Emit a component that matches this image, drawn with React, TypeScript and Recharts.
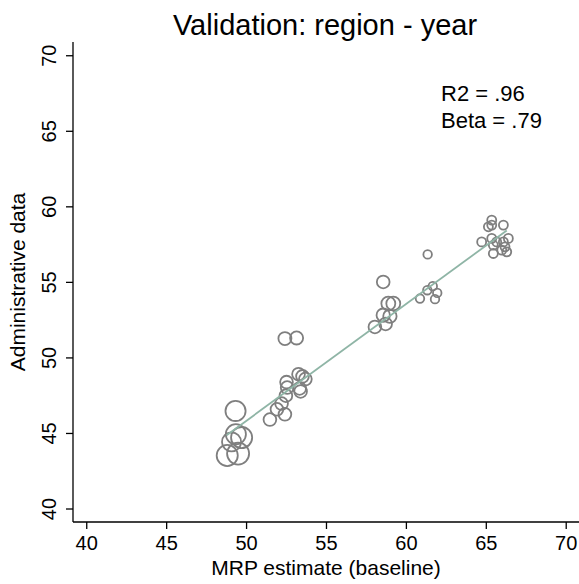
import React from 'react';
import { ScatterChart, Scatter, XAxis, YAxis, ZAxis } from 'recharts';

const FONT = '"Liberation Sans", Arial, Helvetica, sans-serif';

// MRP estimate (baseline) — x values
const mrpEstimate = [
  49.31, 48.79, 49.47, 49.69, 49.33, 49.06,
  51.46, 52.40, 52.19, 51.90, 52.46, 52.54, 52.50, 53.25, 53.50, 53.68, 53.32, 53.38, 52.40, 53.13,
  58.55, 58.87, 59.18, 58.55, 58.97, 58.70, 58.03,
  61.33, 60.85, 61.31, 61.65, 61.93, 61.79,
  65.34, 65.34, 65.13, 66.07, 64.71, 65.34, 65.65, 66.07, 66.38, 65.44, 66.17, 65.44, 65.97, 66.28,
];

// Administrative data — y values
const adminData = [
  46.49, 43.54, 43.67, 44.73, 44.95, 44.44,
  45.92, 46.27, 46.98, 46.60, 47.50, 48.04, 48.40, 48.92, 48.78, 48.60, 47.98, 47.78, 51.28, 51.32,
  55.03, 53.60, 53.60, 52.83, 52.76, 52.25, 52.05,
  56.85, 53.93, 54.48, 54.75, 54.30, 53.89,
  59.12, 58.79, 58.68, 58.79, 57.68, 57.91, 57.68, 57.68, 57.91, 57.46, 57.35, 56.91, 57.13, 57.02,
];

// Relative weights (marker area)
const weights = [
  5.0, 5.5, 6.0, 5.5, 5.0, 4.5,
  2.0, 2.0, 2.0, 2.0, 2.0, 2.0, 2.0, 2.0, 2.0, 2.0, 2.0, 2.0, 2.1, 2.1,
  2.0, 2.4, 2.4, 2.2, 2.2, 2.0, 2.0,
  0.9, 0.9, 0.9, 0.9, 0.9, 0.9,
  1.0, 1.0, 1.0, 1.0, 1.0, 1.0, 1.0, 1.0, 1.0, 1.0, 1.0, 1.0, 1.0, 1.0,
];

// Linear fit endpoints
const fitX = [48.75, 66.28];
const fitY = [44.88, 58.44];

const xTicks = [40, 45, 50, 55, 60, 65, 70];
const yTicks = [40, 45, 50, 55, 60, 65, 70];

const points = mrpEstimate.map((x, i) => ({ x, y: adminData[i], w: weights[i] }));
const fitLine = fitX.map((x, i) => ({ x, y: fitY[i] }));

const W_MAX = 6;
const BASE_AREA = Math.PI * 4.5 * 4.5;

const Ring = (props: any) => {
  const { cx, cy, size, payload } = props;
  if (cx == null || cy == null) return <g />;
  const area = typeof size === 'number' && size > 0 ? size : BASE_AREA * (payload?.w ?? 1);
  const r = Math.sqrt(area / Math.PI);
  return <circle cx={cx} cy={cy} r={r} fill="none" stroke="#7f7f7f" strokeWidth={1.8} />;
};

const XTick = (props: any) => {
  const { x, y, payload } = props;
  return (
    <text x={x} y={y + 18.5} textAnchor="middle" fontSize={20} fontFamily={FONT} fill="#000">
      {payload.value}
    </text>
  );
};

const YTick = (props: any) => {
  const { x, y, payload } = props;
  const bx = x - 8;
  return (
    <text
      x={bx}
      y={y}
      transform={`rotate(-90, ${bx}, ${y})`}
      textAnchor="middle"
      fontSize={20}
      fontFamily={FONT}
      fill="#000"
    >
      {payload.value}
    </text>
  );
};

export default function App() {
  return (
    <div style={{ position: 'absolute', left: 0, top: 0, width: 579, height: 584, background: '#fff' }}>
      <ScatterChart width={579} height={584} margin={{ top: 42, right: 0, bottom: 0, left: 0 }}>
        <XAxis
          type="number"
          dataKey="x"
          domain={[39.14, 70.8]}
          ticks={xTicks}
          allowDataOverflow
          height={62}
          tickSize={7}
          tickMargin={2}
          stroke="#000"
          axisLine={{ stroke: '#000', strokeWidth: 1.3 }}
          tickLine={{ stroke: '#000', strokeWidth: 1.3 }}
          tick={<XTick />}
          interval={0}
        />
        <YAxis
          type="number"
          dataKey="y"
          domain={[39.14, 70.91]}
          ticks={yTicks}
          allowDataOverflow
          width={73}
          tickSize={7}
          tickMargin={2}
          stroke="#000"
          axisLine={{ stroke: '#000', strokeWidth: 1.3 }}
          tickLine={{ stroke: '#000', strokeWidth: 1.3 }}
          tick={<YTick />}
          interval={0}
        />
        <ZAxis type="number" dataKey="w" domain={[0, W_MAX]} range={[0, BASE_AREA * W_MAX]} />
        <Scatter data={points} shape={<Ring />} isAnimationActive={false} />
        <Scatter
          data={fitLine}
          line={{ stroke: '#8fb5a6', strokeWidth: 1.8 }}
          shape={() => <g />}
          isAnimationActive={false}
        />
      </ScatterChart>
      <svg
        width={579}
        height={584}
        style={{ position: 'absolute', left: 0, top: 0, pointerEvents: 'none' }}
      >
        <text x={325} y={35} textAnchor="middle" fontSize={29} fontFamily={FONT} fill="#000">
          Validation: region - year
        </text>
        <text x={441} y={101} fontSize={22} fontFamily={FONT} fill="#000">
          R2 = .96
        </text>
        <text x={441} y={128} fontSize={22} fontFamily={FONT} fill="#000">
          Beta = .79
        </text>
        <text x={326} y={575} textAnchor="middle" fontSize={21} fontFamily={FONT} fill="#000">
          MRP estimate (baseline)
        </text>
        <text
          x={25}
          y={282}
          transform="rotate(-90, 25, 282)"
          textAnchor="middle"
          fontSize={21}
          fontFamily={FONT}
          fill="#000"
        >
          Administrative data
        </text>
      </svg>
    </div>
  );
}
